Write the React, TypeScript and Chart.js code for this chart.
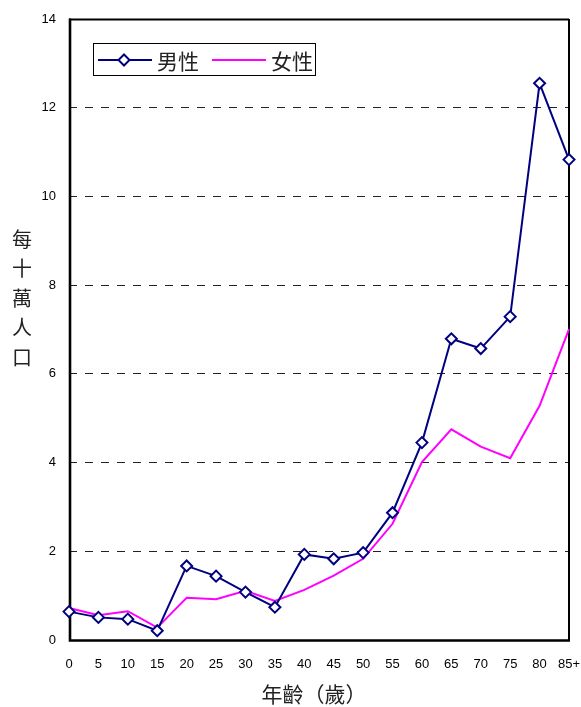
import React, { useEffect, useRef } from "react";
import { Chart, registerables } from "chart.js";

Chart.register(...registerables);

const ageGroups = ["0", "5", "10", "15", "20", "25", "30", "35", "40", "45", "50", "55", "60", "65", "70", "75", "80", "85+"];
const maleRates = [0.64, 0.51, 0.47, 0.21, 1.67, 1.44, 1.08, 0.74, 1.93, 1.83, 1.97, 2.87, 4.45, 6.79, 6.57, 7.29, 12.55, 10.83];
const femaleRates = [0.72, 0.56, 0.65, 0.28, 0.95, 0.92, 1.11, 0.88, 1.13, 1.45, 1.83, 2.62, 4.01, 4.75, 4.36, 4.1, 5.28, 7.01];
const yMin = 0;
const yMax = 14;
const yStep = 2;
const seriesLabels = ["男性", "女性"];
const yTitle = "每十萬人口";
const xTitle = "年齡（歲）";

const MALE_COLOR = "#000080";
const FEMALE_COLOR = "#FF00FF";
const CJK_FONT = '"Noto Sans CJK TC", "Noto Sans CJK SC", sans-serif';
const TICK_FONT = '"Liberation Sans", Arial, sans-serif';

const framePlugin = {
  id: "frame",
  beforeDatasetsDraw(chart: any) {
    const { ctx, chartArea } = chart;
    const { left, right, top, bottom } = chartArea;
    ctx.save();
    ctx.strokeStyle = "#000";
    ctx.setLineDash([]);
    // top & right thin border
    ctx.lineWidth = 2;
    ctx.beginPath();
    ctx.moveTo(left, top + 0.5);
    ctx.lineTo(right, top + 0.5);
    ctx.moveTo(right, top);
    ctx.lineTo(right, bottom);
    ctx.stroke();
    // left & bottom thick axes
    ctx.lineWidth = 2.6;
    ctx.beginPath();
    ctx.moveTo(left + 1, top - 0.5);
    ctx.lineTo(left + 1, bottom + 1.8);
    ctx.moveTo(left - 0.3, bottom + 0.5);
    ctx.lineTo(right + 1, bottom + 0.5);
    ctx.stroke();
    ctx.restore();
  },
  afterDraw(chart: any) {
    const { ctx } = chart;
    ctx.save();
    // legend box
    ctx.fillStyle = "#fff";
    ctx.fillRect(93, 43, 223, 33);
    ctx.strokeStyle = "#000";
    ctx.lineWidth = 1;
    ctx.strokeRect(93.5, 43.5, 222, 32);
    const ly = 60;
    // male entry
    ctx.strokeStyle = MALE_COLOR;
    ctx.lineWidth = 2;
    ctx.beginPath();
    ctx.moveTo(98, ly);
    ctx.lineTo(152, ly);
    ctx.stroke();
    const r = 5.5;
    ctx.beginPath();
    ctx.moveTo(124, ly - r);
    ctx.lineTo(124 + r, ly);
    ctx.lineTo(124, ly + r);
    ctx.lineTo(124 - r, ly);
    ctx.closePath();
    ctx.fillStyle = "#fff";
    ctx.fill();
    ctx.stroke();
    ctx.fillStyle = "#222";
    ctx.font = `21px ${CJK_FONT}`;
    ctx.textAlign = "left";
    ctx.textBaseline = "middle";
    ctx.fillText(seriesLabels[0], 157, ly + 1);
    // female entry
    ctx.strokeStyle = FEMALE_COLOR;
    ctx.beginPath();
    ctx.moveTo(212, ly);
    ctx.lineTo(266, ly);
    ctx.stroke();
    ctx.fillText(seriesLabels[1], 271, ly + 1);

    // y title, stacked characters
    ctx.font = `20px ${CJK_FONT}`;
    ctx.textAlign = "center";
    ctx.fillStyle = "#222";
    const chars = Array.from(yTitle);
    chars.forEach((ch, i) => {
      ctx.fillText(ch, 22, 239 + i * 29.5);
    });
    // x title
    ctx.font = `21px ${CJK_FONT}`;
    ctx.fillText(xTitle, 314, 694);
    ctx.restore();
  },
};

export default function App() {
  const canvasRef = useRef<HTMLCanvasElement | null>(null);

  useEffect(() => {
    if (!canvasRef.current) return;
    const chart = new Chart(canvasRef.current, {
      type: "line",
      data: {
        labels: ageGroups,
        datasets: [
          {
            label: seriesLabels[0],
            data: maleRates,
            borderColor: MALE_COLOR,
            backgroundColor: "#fff",
            borderWidth: 2,
            pointStyle: "rectRot",
            pointRadius: 5.5,
            pointBorderWidth: 2,
            pointBackgroundColor: "#fff",
            pointBorderColor: MALE_COLOR,
            tension: 0,
            clip: false as any,
          },
          {
            label: seriesLabels[1],
            data: femaleRates,
            borderColor: FEMALE_COLOR,
            backgroundColor: FEMALE_COLOR,
            borderWidth: 2,
            pointRadius: 0,
            tension: 0,
            clip: false as any,
          },
        ],
      },
      options: {
        responsive: false,
        animation: false,
        devicePixelRatio: 1,
        layout: { padding: { top: 19, right: 12, left: 0, bottom: 0 } },
        plugins: {
          legend: { display: false },
          tooltip: { enabled: false },
        },
        scales: {
          x: {
            type: "category",
            offset: false,
            grid: { display: false, drawTicks: false },
            border: { display: false },
            ticks: {
              color: "#000",
              font: { family: TICK_FONT, size: 13 },
              padding: 17,
              maxRotation: 0,
              autoSkip: false,
            },
            afterFit: (s: any) => {
              s.height = 67;
              s.paddingLeft = 0;
              s.paddingRight = 0;
            },
          },
          y: {
            min: yMin,
            max: yMax,
            ticks: {
              stepSize: yStep,
              color: "#000",
              font: { family: TICK_FONT, size: 13 },
              padding: 13,
            },
            grid: {
              drawTicks: false,
              lineWidth: 1,
              color: (c: any) =>
                c.tick && (c.tick.value === yMin || c.tick.value === yMax) ? "rgba(0,0,0,0)" : "#222",
            },
            border: { display: false, dash: [8, 8] },
            afterFit: (s: any) => {
              s.width = 69;
              s.paddingTop = 0;
              s.paddingBottom = 0;
            },
          },
        },
      },
      plugins: [framePlugin],
    });
    return () => chart.destroy();
  }, []);

  return (
    <div style={{ position: "absolute", left: 0, top: 0, width: 581, height: 707, background: "#fff" }}>
      <canvas ref={canvasRef} width={581} height={707} style={{ display: "block" }} />
    </div>
  );
}
